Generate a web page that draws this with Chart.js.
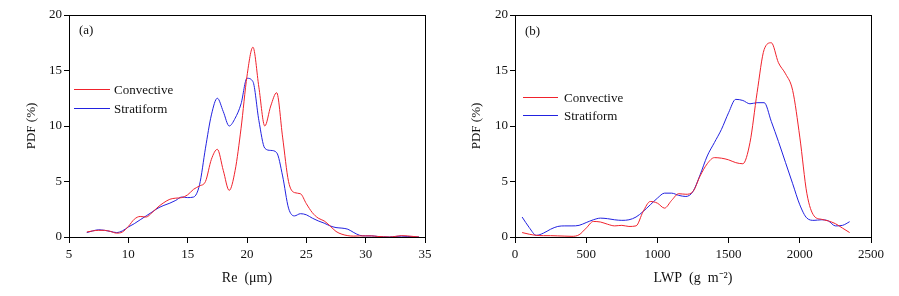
<!DOCTYPE html>
<html><head><meta charset="utf-8">
<script src="https://cdn.jsdelivr.net/npm/chart.js@4/dist/chart.umd.min.js"></script>
<style>
html,body{margin:0;padding:0;background:#fff;}
#wrap{position:relative;width:899px;height:296px;overflow:hidden;}
canvas{position:absolute;top:0;}
</style></head><body>
<div id="wrap">
<canvas id="ca" width="450" height="296" style="left:0"></canvas>
<canvas id="cb" width="449" height="296" style="left:450px"></canvas>
</div>
<script>
// ---- data ----
const seriesNames = ['Convective', 'Stratiform'];
const panelLabels = ['(a)', '(b)'];
const axisTitlesX = ['Re  (\u03bcm)', 'LWP  (g  m\u207b\u00b2)'];
const axisTitleY = 'PDF (%)';

const reValues = [6.5,7,7.5,8,8.5,9,9.5,10,10.5,11,11.5,12,12.5,13,13.5,14,14.5,15,15.5,16,16.5,17,17.5,18,18.5,19,19.5,20,20.5,21,21.5,22,22.5,23,23.5,24,24.5,25,25.5,26,26.5,27,27.5,28,28.5,29,29.5,30,30.5,31,31.5,32,32.5,33,33.5,34,34.5];
const reConvective = [0.45,0.55,0.6,0.6,0.5,0.35,0.45,0.95,1.6,1.85,1.8,2.2,2.7,3.1,3.4,3.5,3.55,3.8,4.3,4.6,5.0,7.0,7.9,6.0,4.2,6.0,9.8,14.5,17.1,13.5,10.0,11.8,13.0,9.0,5.0,4.0,3.9,3.0,2.2,1.7,1.45,1.0,0.5,0.25,0.12,0.08,0.1,0.1,0.1,0.05,0.02,0.0,0.05,0.12,0.1,0.05,0.0];
const reStratiform = [0.4,0.55,0.65,0.6,0.5,0.4,0.55,0.9,1.2,1.55,1.9,2.25,2.6,2.85,3.05,3.3,3.6,3.55,3.6,4.7,8.0,11.0,12.5,11.3,10.0,10.7,12.0,14.3,14.0,10.5,8.0,7.8,7.6,5.5,2.6,1.9,2.1,2.0,1.7,1.45,1.25,1.0,0.85,0.8,0.7,0.4,0.15,0.1,0.1,0.05,0.02,0.0,0.05,0.08,0.05,0.02,0.0];

const lwpValues = [50,100,150,200,250,300,350,400,450,500,550,600,650,700,750,800,850,900,950,1000,1050,1100,1150,1200,1250,1300,1350,1400,1450,1500,1550,1600,1650,1700,1750,1800,1850,1900,1950,2000,2050,2100,2150,2200,2250,2300,2350];
const lwpConvective = [0.4,0.25,0.15,0.12,0.12,0.1,0.08,0.06,0.2,0.8,1.4,1.35,1.15,1.0,1.05,0.95,1.0,2.3,3.2,3.05,2.6,3.3,3.9,3.85,4.1,5.5,6.6,7.15,7.1,6.95,6.7,6.6,8.5,13.0,16.9,17.5,15.7,14.7,13.2,9.0,3.9,1.9,1.6,1.45,1.2,0.8,0.4];
const lwpStratiform = [1.8,0.85,0.15,0.35,0.7,0.95,1.0,1.0,1.05,1.3,1.55,1.7,1.65,1.55,1.5,1.55,1.8,2.3,2.9,3.5,3.95,3.95,3.75,3.65,4.1,5.6,7.3,8.5,9.7,11.2,12.4,12.3,12.0,12.1,12.1,10.4,8.6,6.7,4.8,2.9,1.7,1.5,1.55,1.45,1.0,1.05,1.38];

const reRange = [5, 35, 5];
const lwpRange = [0, 2500, 500];
const pdfRange = [0, 20, 5];

const seriesColors = ['#f0222c', '#2222e0'];
const FONT = 'Liberation Serif';

// ---- decoration plugin: frame, legend inside plot, panel label ----
const deco = {
  id: 'deco',
  afterDraw(chart, args, opts) {
    const ctx = chart.ctx, a = chart.chartArea;
    ctx.save();
    ctx.strokeStyle = '#000'; ctx.lineWidth = 1;
    const l = Math.round(a.left) + 0.5, t = Math.round(a.top) + 0.5;
    const r = Math.round(a.right) + 0.5, b = Math.round(a.bottom) + 0.5;
    ctx.strokeRect(l, t, r - l, b - t);
    ctx.font = '13px "' + FONT + '"';
    ctx.fillStyle = '#111';
    ctx.textBaseline = 'middle';
    ctx.textAlign = 'left';
    ctx.fillText(opts.label, a.left + opts.labelDx, a.top + opts.labelDy);
    chart.data.datasets.forEach((ds, i) => {
      const y = Math.round(a.top + opts.legY + i * opts.legGap) + 0.5;
      ctx.strokeStyle = ds.borderColor; ctx.lineWidth = 1;
      ctx.beginPath();
      ctx.moveTo(a.left + opts.legX0, y); ctx.lineTo(a.left + opts.legX1, y);
      ctx.stroke();
      ctx.fillText(ds.label, a.left + opts.legTx, y + 1);
    });
    ctx.restore();
  }
};

function makeChart(id, xs, conv, strat, xr, xTitle, label, cfg) {
  const pts = (ys) => xs.map((x, i) => ({x: x, y: ys[i]}));
  return new Chart(document.getElementById(id), {
    type: 'line',
    data: {
      datasets: [
        {label: seriesNames[0], data: pts(conv), borderColor: seriesColors[0]},
        {label: seriesNames[1], data: pts(strat), borderColor: seriesColors[1]}
      ]
    },
    options: {
      responsive: false, animation: false, events: [],
      layout: {padding: {top: 15, right: cfg.padRight, left: 0, bottom: 0}},
      elements: {
        point: {radius: 0},
        line: {borderWidth: 1, cubicInterpolationMode: 'monotone', fill: false}
      },
      plugins: {
        legend: {display: false}, tooltip: {enabled: false},
        deco: Object.assign({label: label}, cfg.deco)
      },
      scales: {
        x: {
          type: 'linear', min: xr[0], max: xr[1],
          ticks: {stepSize: xr[2], color: '#111', padding: 4, maxRotation: 0,
                  font: {family: FONT, size: 13},
                  callback: (v) => String(v)},
          grid: {display: true, drawOnChartArea: false, drawTicks: true, tickLength: 6, color: '#000'},
          border: {display: true, color: '#000'},
          title: {display: true, text: xTitle, color: '#111', font: {family: FONT, size: 14},
                  padding: {top: 0, bottom: 9}},
          afterFit(s) { s.height = 59; }
        },
        y: {
          type: 'linear', min: pdfRange[0], max: pdfRange[1],
          ticks: {stepSize: pdfRange[2], color: '#111', padding: 2,
                  font: {family: FONT, size: 13}, callback: (v) => String(v)},
          grid: {display: true, drawOnChartArea: false, drawTicks: true, tickLength: 5, color: '#000'},
          border: {display: true, color: '#000'},
          title: {display: true, text: axisTitleY, color: '#111', font: {family: FONT, size: 13},
                  padding: {top: cfg.yTitlePad, bottom: 0}},
          afterFit(s) { s.width = cfg.yWidth; }
        }
      }
    },
    plugins: [deco]
  });
}

makeChart('ca', reValues, reConvective, reStratiform, reRange, axisTitlesX[0], panelLabels[0],
  {padRight: 25, yWidth: 69, yTitlePad: 24,
   deco: {labelDx: 10, labelDy: 16, legX0: 5, legX1: 41, legTx: 45, legY: 74, legGap: 19}});
makeChart('cb', lwpValues, lwpConvective, lwpStratiform, lwpRange, axisTitlesX[1], panelLabels[1],
  {padRight: 28, yWidth: 65, yTitlePad: 19,
   deco: {labelDx: 10, labelDy: 17, legX0: 8, legX1: 43, legTx: 49, legY: 82, legGap: 18}});
</script>
</body></html>
